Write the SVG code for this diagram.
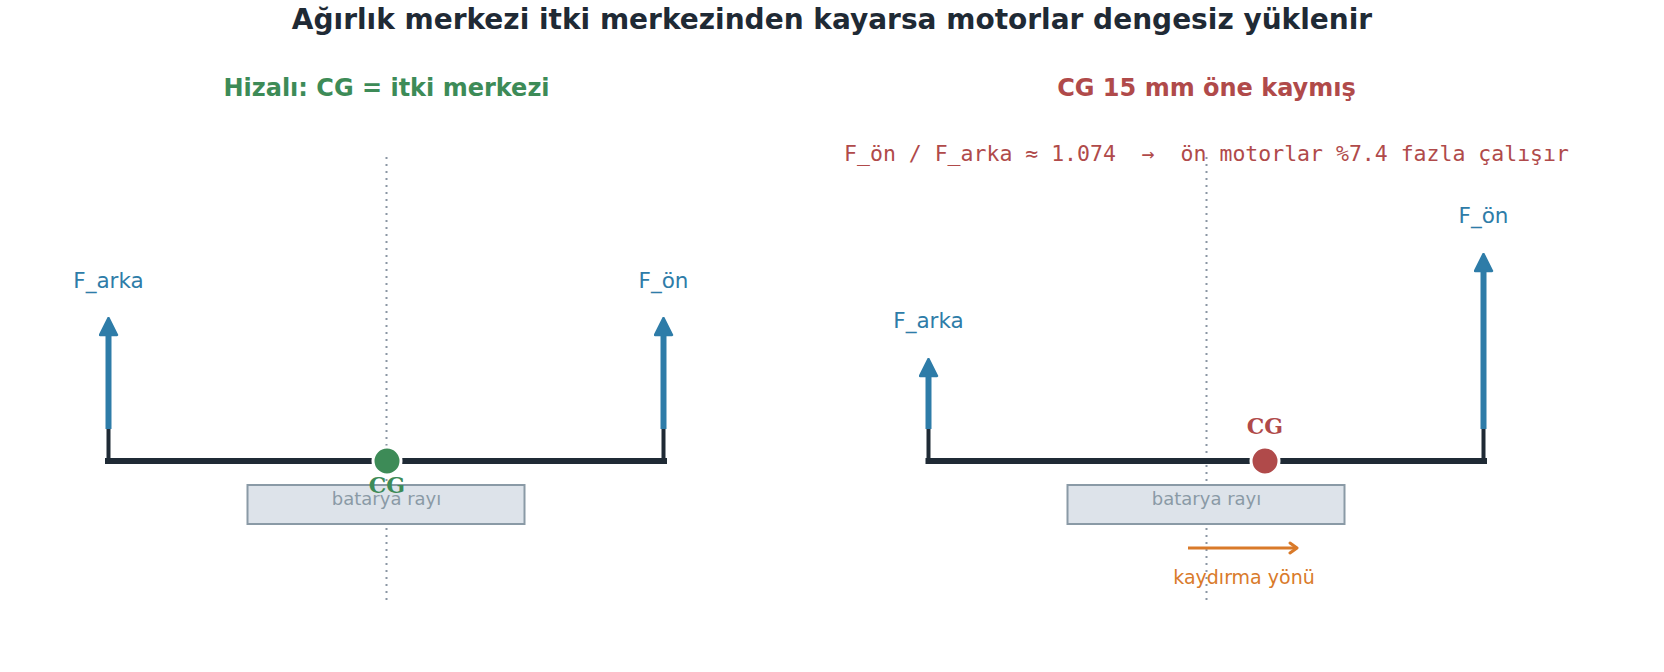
<svg xmlns="http://www.w3.org/2000/svg" width="1664" height="672" viewBox="0 0 1664 672">
<defs>
<marker id="ah" viewBox="0 0 20 20" refX="3" refY="10" markerWidth="20" markerHeight="20" orient="auto" markerUnits="userSpaceOnUse">
<path d="M2,1.5 L19,10 L2,18.5 Z" fill="#2e7ca8" stroke="#2e7ca8" stroke-width="2.5" stroke-linejoin="round"/>
</marker>
<marker id="ao" viewBox="0 0 14 14" refX="11" refY="7" markerWidth="14" markerHeight="14" orient="auto" markerUnits="userSpaceOnUse">
<path d="M4,2 L11,7 L4,12" fill="none" stroke="#d97a2a" stroke-width="3" stroke-linecap="round" stroke-linejoin="round"/>
</marker>
<style>
.title{font-family:"DejaVu Sans",sans-serif;font-weight:bold;font-size:28px;fill:#1f2a35;text-anchor:middle}
.sub{font-family:"DejaVu Sans",sans-serif;font-weight:bold;font-size:24px;text-anchor:middle}
.lbl{font-family:"DejaVu Sans",sans-serif;font-size:21.5px;fill:#2e7ca8;text-anchor:middle}
.mono{font-family:"DejaVu Sans Mono",monospace;font-size:21.5px;fill:#b04a4a;text-anchor:middle;white-space:pre}
.cg{font-family:"DejaVu Serif",serif;font-weight:bold;font-size:22px;text-anchor:middle}
.small{font-family:"DejaVu Sans",sans-serif;font-size:18px;text-anchor:middle}
.beam{stroke:#1f2a35;stroke-width:6;fill:none}
.stub{stroke:#1f2a35;stroke-width:4;fill:none}
.force{stroke:#2e7ca8;stroke-width:6;fill:none;marker-end:url(#ah)}
.axis{stroke:#8a96a3;stroke-width:2;stroke-dasharray:2,5;fill:none}
.rail{fill:#dde3ea;stroke:#8a9aa6;stroke-width:2}
</style>
</defs>
<rect width="1664" height="672" fill="#ffffff"/>
<text class="title" x="832" y="29">Ağırlık merkezi itki merkezinden kayarsa motorlar dengesiz yüklenir</text>

<g id="left-panel">
<text class="sub" x="386.5" y="96" fill="#3d8b57">Hizalı: CG = itki merkezi</text>
<line class="axis" x1="386.5" y1="157" x2="386.5" y2="600"/>
<g id="left-rail">
<rect class="rail" x="247.5" y="485" width="277" height="39"/>
<text class="small" x="386.5" y="505" fill="#8a9aa6">batarya rayı</text>
</g>
<g id="left-beam">
<line class="beam" x1="108" y1="461" x2="664" y2="461" stroke-linecap="square"/>
<line class="stub" x1="108.5" y1="461" x2="108.5" y2="429"/>
<line class="stub" x1="663.5" y1="461" x2="663.5" y2="429"/>
</g>
<g id="left-cg">
<circle cx="387" cy="461" r="14" fill="#3d8b57" stroke="#ffffff" stroke-width="3"/>
<text class="cg" x="387" y="493" fill="#3d8b57">CG</text>
</g>
</g>

<g id="right-panel">
<text class="sub" x="1206.5" y="96" fill="#b04a4a">CG 15 mm öne kaymış</text>
<text class="mono" x="1206.5" y="161" xml:space="preserve">F_ön / F_arka ≈ 1.074  →  ön motorlar %7.4 fazla çalışır</text>
<line class="axis" x1="1206.5" y1="157" x2="1206.5" y2="600"/>
<g id="right-rail">
<rect class="rail" x="1067.5" y="485" width="277" height="39"/>
<text class="small" x="1206.5" y="505" fill="#8a9aa6">batarya rayı</text>
</g>
<g id="right-beam">
<line class="beam" x1="928.5" y1="461" x2="1484" y2="461" stroke-linecap="square"/>
<line class="stub" x1="928.5" y1="461" x2="928.5" y2="429"/>
<line class="stub" x1="1483.5" y1="461" x2="1483.5" y2="429"/>
</g>
<g id="right-cg">
<circle cx="1265" cy="461" r="14" fill="#b04a4a" stroke="#ffffff" stroke-width="3"/>
<text class="cg" x="1265" y="434" fill="#b04a4a">CG</text>
</g>
<text class="small" x="1244" y="584" fill="#d97a2a" style="font-size:19px">kaydırma yönü</text>
</g>

<g id="connectors">
<line class="force" x1="108.5" y1="429" x2="108.5" y2="334"/>
<line class="force" x1="663.5" y1="429" x2="663.5" y2="334"/>
<line class="force" x1="928.5" y1="429" x2="928.5" y2="375"/>
<line class="force" x1="1483.5" y1="429" x2="1483.5" y2="270"/>
<line x1="1188" y1="548" x2="1297" y2="548" stroke="#d97a2a" stroke-width="3" marker-end="url(#ao)"/>
</g>

<g id="force-labels">
<text class="lbl" x="108.5" y="288">F_arka</text>
<text class="lbl" x="663.5" y="288">F_ön</text>
<text class="lbl" x="928.5" y="328">F_arka</text>
<text class="lbl" x="1483.5" y="223">F_ön</text>
</g>
</svg>
